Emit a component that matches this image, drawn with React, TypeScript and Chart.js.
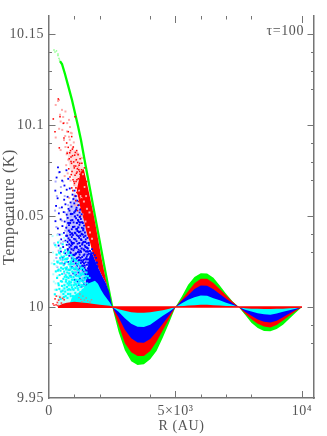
import React, { useEffect, useRef } from "react";
import { Chart, registerables } from "chart.js";

Chart.register(...registerables);

// axis ticks
const xMajorTicks = [0, 5000, 10000];
const xMinorTicks = [1000, 2000, 4000, 6000, 7000, 8000];
const yMajorTicks = [9.95, 10, 10.05, 10.1, 10.15];
const yMinorTicks = [10.14, 10.13, 10.12, 10.09, 10.08, 10.07, 10.04, 10.03, 9.99, 9.98];
const xLabels: Record<number, string> = { 0: "0", 5000: "5×10³", 10000: "10⁴" };
const annotation = "τ=100";

// oscillating lobes, R from 2500 to 10000
const lobeR = [2500, 2750, 3000, 3250, 3500, 3750, 4000, 4250, 4500, 4750, 5000, 5250, 5500, 5750, 6000, 6250, 6500, 6750, 7000, 7250, 7500, 7750, 8000, 8250, 8500, 8750, 9000, 9250, 9500, 9750, 10000];
const lobeGreen = [10, 9.9864, 9.9763, 9.9702, 9.9682, 9.9686, 9.9713, 9.9758, 9.9832, 9.9914, 10, 10.0058, 10.0122, 10.0165, 10.0186, 10.0184, 10.0161, 10.0119, 10.0073, 10.0032, 10, 9.9957, 9.9914, 9.9885, 9.9869, 9.9867, 9.988, 9.9903, 9.9936, 9.9968, 10];
const lobeRed = [10, 9.9903, 9.9801, 9.9752, 9.9731, 9.9731, 9.9758, 9.9809, 9.9873, 9.9936, 10, 10.0041, 10.0087, 10.0131, 10.0156, 10.0155, 10.0132, 10.0099, 10.0065, 10.0031, 10, 9.9965, 9.9933, 9.9908, 9.9893, 9.9888, 9.9901, 9.9926, 9.9952, 9.9977, 10];
const lobeBlue = [10, 9.9944, 9.9875, 9.9829, 9.9805, 9.9804, 9.9824, 9.9864, 9.9908, 9.9955, 10, 10.0035, 10.0065, 10.0099, 10.0118, 10.0117, 10.0098, 10.0072, 10.0046, 10.0021, 10, 9.9974, 9.9952, 9.9932, 9.9919, 9.9915, 9.9925, 9.9944, 9.9965, 9.9984, 10];
const lobeCyan = [10, 9.9974, 9.9939, 9.9908, 9.9892, 9.9891, 9.9903, 9.9928, 9.9952, 9.9974, 10, 10.0021, 10.004, 10.0054, 10.0063, 10.0062, 10.0049, 10.0037, 10.0024, 10.0013, 10, 9.9985, 9.9976, 9.9966, 9.996, 9.9958, 9.9964, 9.9974, 9.9983, 9.9991, 10];
const lobeInner = [10, 9.9988, 9.998, 9.9972, 9.9969, 9.9969, 9.9971, 9.9977, 9.9982, 9.9991, 10, 10.0005, 10.0008, 10.001, 10.0012, 10.0012, 10.001, 10.0008, 10.0006, 10.0004, 10, 9.9993, 9.9991, 9.999, 9.9989, 9.9989, 9.999, 9.9991, 9.9993, 9.9995, 10];

// green crest of the first peak
const crestR = [435, 513, 632, 751, 909, 1027, 1146, 1264, 1442, 1620, 1817, 2015, 2212, 2410, 2500];
const crestT = [10.1352, 10.1336, 10.1281, 10.122, 10.1138, 10.1067, 10.0995, 10.0918, 10.0781, 10.0649, 10.0501, 10.0353, 10.0205, 10.0062, 10];
const crestDotsR = [198, 237, 296, 355, 355, 395, 415];
const crestDotsT = [10.1413, 10.1402, 10.1408, 10.1391, 10.1383, 10.1367, 10.1358];

// solid red flank
const flankR = [1100, 1250, 1375, 1500, 1625, 1750, 1875, 2000, 2125, 2250, 2375, 2500];
const flankUpper = [10.0644, 10.0743, 10.0759, 10.0682, 10.06, 10.0518, 10.0424, 10.0326, 10.0232, 10.015, 10.0073, 10];
const flankLower = [10.0644, 10.054, 10.0479, 10.0402, 10.0353, 10.0282, 10.0238, 10.0199, 10.0164, 10.0131, 10.0084, 10];

// faint density washes
const pinkR = [750, 900, 1050, 1250, 1375];
const pinkUpper = [10.0853, 10.0864, 10.0864, 10.0842, 10.0759];
const pinkLower = [10.0809, 10.0726, 10.0644, 10.054, 10.0479];
const paleBlueR = [670, 830, 1027, 1225, 1383, 1500, 1620];
const paleBlueUpper = [10.0507, 10.0562, 10.0633, 10.0545, 10.0479, 10.0402, 10.0353];
const paleBlueLower = [10.0397, 10.0271, 10.0194, 10.015, 10.0122, 10.0122, 10.0133];
const paleCyanR = [350, 550, 750, 950, 1150, 1350, 1540];
const paleCyanT = [10.004, 10.0122, 10.0194, 10.0216, 10.0205, 10.0172, 10.0144];

// solid blue and cyan masses
const blueR = [1450, 1550, 1650, 1750, 1875, 2000, 2125, 2250, 2375, 2500];
const blueT = [10.0133, 10.0232, 10.0315, 10.0282, 10.0238, 10.0199, 10.0164, 10.0131, 10.0084, 10];
const cyanR = [830, 900, 1027, 1225, 1383, 1540, 1620, 1817, 1935, 2055, 2175, 2293, 2410, 2500];
const cyanT = [10.0024, 10.0051, 10.0068, 10.0084, 10.0106, 10.0128, 10.0133, 10.0144, 10.0128, 10.0095, 10.0068, 10.0046, 10.0024, 10];

// thick red base near T = 10
const baseR = [350, 550, 700, 1000, 1500, 2000, 2400, 2500];
const baseT = [10.0006, 10.0018, 10.0024, 10.0029, 10.0022, 10.0013, 10.0007, 10];
const baselineR = [420, 10000];
const baselineT = [10, 10];

// scattered points as R, T-10 (in 1e-4 K) pairs
const redDots = [367,1144, 170,1034, 237,964, 435,1046, 565,1010, 407,875, 592,929, 762,964, 699,902, 1027,1046, 897,937, 720,845, 760,878, 800,815, 850,860, 890,790, 930,832, 960,880, 1000,765, 1040,850, 1080,810, 1110,742, 1150,838, 1190,780, 1230,815, 780,760, 830,715, 870,800, 910,745, 950,700, 990,775, 1030,725, 1070,690, 1120,760, 1160,705, 1210,745, 1260,670, 1300,790, 900,655, 945,640, 985,690, 1025,610, 1065,655, 1105,700, 1145,625, 1185,670, 1225,730, 1270,640, 1320,700, 1060,585, 1100,630, 1140,560, 1180,610, 1220,680, 1280,595, 1340,660, 1390,720, 1130,530, 1170,580, 1210,630, 1250,540, 1310,610, 1370,650, 1420,700, 1240,500, 1300,560, 1360,600, 1430,640, 1490,690, 1530,610, 820,848, 870,825, 925,868, 975,798, 1015,835, 1055,775, 1095,860, 1135,795, 1175,755, 1215,790, 1255,725, 1295,755, 1345,745, 880,728, 1005,680, 1085,735, 1165,650, 1400,765];
const pinkDots = [395,1138, 355,1133, 265,1111, 435,1057, 513,1084, 650,1075, 790,1029, 592,1012, 460,1020, 720,1011, 830,990, 525,974, 710,965, 860,958, 265,932, 592,918, 790,936, 460,863, 650,880, 860,890, 720,850, 400,980, 560,1045, 640,940, 820,920, 900,955, 760,810, 940,875, 980,905, 680,780, 1050,805, 1100,845, 620,720, 740,735, 850,695, 1000,670, 1150,770, 1230,755, 1300,820, 1100,610, 1190,640, 1280,600, 1340,730, 1040,560, 1400,660, 700,840, 800,600, 1320,510, 1440,470, 1500,540, 1470,610, 1560,440, 1600,520, 1620,410, 1700,375, 1380,580, 1250,610];
const blueDots = [355,768, 420,742, 690,752, 300,712, 520,695, 760,705, 610,668, 250,640, 470,628, 700,645, 820,652, 930,618, 1010,640, 340,598, 600,590, 735,606, 850,575, 965,594, 1060,610, 1120,585, 280,556, 510,548, 650,565, 770,540, 890,552, 1000,570, 1090,546, 1180,560, 1230,535, 390,515, 580,522, 700,508, 810,530, 930,512, 1040,528, 1130,505, 1210,520, 1290,510, 255,472, 460,482, 620,470, 740,490, 860,476, 970,465, 1070,488, 1170,470, 1260,484, 1340,462, 350,432, 530,445, 680,436, 790,450, 900,428, 1010,442, 1110,430, 1205,452, 1300,436, 1385,448, 420,398, 590,408, 720,392, 830,412, 945,396, 1050,404, 1150,390, 1245,415, 1340,398, 1420,410, 480,372, 650,365, 770,378, 880,360, 990,375, 1090,362, 1190,380, 1285,368, 1375,385, 1455,372, 1520,380, 380,338, 560,330, 700,342, 815,328, 925,345, 1030,330, 1130,348, 1230,335, 1325,352, 1415,338, 1495,350, 1580,340, 470,305, 640,295, 750,310, 860,298, 965,312, 1070,296, 1170,315, 1270,302, 1365,318, 1455,305, 1540,322, 1620,308, 1700,318, 540,272, 700,265, 800,282, 905,268, 1010,285, 1110,270, 1210,288, 1310,275, 1405,290, 1495,278, 1580,292, 1660,280, 1740,296, 1810,285, 610,238, 750,248, 850,235, 955,252, 1060,240, 1160,255, 1260,242, 1355,258, 1450,246, 1540,262, 1625,250, 1705,265, 1785,252, 1860,270, 680,212, 800,205, 905,220, 1010,208, 1110,225, 1215,212, 1310,228, 1405,215, 1500,232, 1585,218, 1675,235, 1755,222, 1835,238, 1910,225, 850,172, 960,185, 1065,175, 1170,190, 1270,178, 1365,195, 1460,182, 1555,198, 1640,185, 1725,200, 1805,190, 1885,205, 1960,195, 1020,150, 1125,140, 1225,155, 1325,145, 1420,160, 1515,148, 1605,165, 1690,152, 1775,168, 1855,158, 1935,172, 2010,162, 1180,122, 1285,112, 1385,128, 1480,118, 1570,132, 1660,120, 1745,135, 1000,322, 1200,300, 1400,262, 1100,395, 900,385, 800,345, 1250,270, 1350,225, 1150,205, 1450,205];
const blueDenseDots = [835,462, 912,405, 1042,372, 1128,418, 1236,392, 1312,344, 1398,312, 1478,262, 872,338, 958,287, 1084,332, 1196,352, 1288,322, 1372,284, 1446,330, 1522,288, 1592,262, 1652,228, 782,420, 866,512, 948,440, 1024,498, 1102,462, 1186,412, 1262,372, 1352,422, 1432,358, 1508,306, 1568,352, 1634,272, 1714,244, 1792,228, 724,358, 826,300, 906,352, 996,262, 1066,262, 1148,302, 1242,308, 1330,248, 1412,228, 1486,198, 1552,244, 1618,212, 1694,190, 1022,408, 1098,326, 1172,274, 1248,225, 1338,205, 1422,182, 1494,162, 1578,176, 1662,168, 1742,186, 1822,212, 1892,244, 762,462, 848,398, 922,478, 1082,428, 1158,438, 1222,465, 1292,402, 1366,358, 1436,392, 1502,326, 1552,305, 684,392, 742,318, 818,368, 892,318, 976,352, 1048,292, 1122,236, 1196,258, 1274,256, 1382,240, 1468,268, 1546,212, 1608,238, 1682,208, 1000,520, 1075,535, 1150,478, 1218,495, 1308,466, 1356,432];
const paleBlueDots = [260,690, 390,740, 470,660, 310,610, 560,690, 240,530, 420,545, 620,610, 290,440, 510,475, 350,400, 470,350, 640,420, 210,350, 380,310, 560,360, 290,270, 450,260, 720,300, 330,220, 520,245, 610,185, 640,520, 760,560, 880,500, 700,440, 820,420, 600,300, 760,340, 900,330, 1000,470];
const cyanDots = [250,340, 360,355, 450,322, 540,345, 640,312, 300,288, 400,300, 500,276, 590,300, 690,286, 780,305, 880,285, 210,236, 330,250, 440,240, 540,260, 640,245, 740,268, 840,250, 940,272, 1040,255, 270,196, 380,206, 480,216, 580,230, 680,206, 780,235, 880,212, 980,238, 1080,220, 1180,245, 320,160, 420,176, 520,182, 620,166, 720,190, 820,170, 920,195, 1020,178, 1120,205, 1220,185, 1320,215, 370,130, 470,142, 570,155, 670,140, 770,160, 870,136, 970,165, 1070,145, 1170,172, 1270,150, 1370,180, 1470,158, 410,100, 510,116, 610,120, 710,110, 810,130, 910,108, 1010,135, 1110,115, 1210,140, 1310,120, 1410,150, 1510,130, 1600,160, 300,95, 540,90, 640,85, 740,95, 840,72, 940,98, 1040,78, 1140,103, 1240,82, 230,70, 460,45, 590,55, 730,50, 860,60, 1000,45, 760,205, 860,235, 960,150, 1060,190, 1160,130, 1260,210, 1360,160, 660,175, 900,260, 1000,210, 1100,170, 1200,125, 1300,180, 1400,130, 800,140, 700,250, 780,120, 880,165, 980,120, 1080,255, 1180,200, 1280,120, 1380,205, 1480,190, 600,195, 680,150, 420,295, 520,140, 610,102, 700,165, 790,98, 880,120, 975,95, 1065,125, 1155,95, 1245,110, 1335,95, 560,210, 650,215, 735,130, 825,205, 905,150, 990,190, 1085,150, 1175,150, 1255,175, 1345,140, 1435,110, 625,262, 705,218, 795,185, 875,245, 955,215, 1040,125, 1125,235, 1205,165, 1285,145, 1385,115, 480,85, 570,72, 660,60, 755,72, 850,95, 945,60, 1045,105, 1150,60, 1260,62, 1375,75, 1480,95, 1560,100, 505,240, 595,278, 675,265, 765,295, 845,222, 930,235, 1015,262, 1095,210, 1235,228, 1325,190, 1445,170, 1535,170, 350,200, 440,270, 385,120, 455,200, 345,245];
const paleCyanDots = [140,390, 220,345, 330,395, 160,300, 290,330, 420,365, 510,400, 200,255, 260,130, 400,255, 480,285, 600,380, 170,180, 300,225, 370,60, 520,210, 670,355, 230,95, 110,240, 190,140, 340,170, 450,90];
const baseDots = [240,45, 290,60, 330,25, 160,18, 380,38, 430,55, 200,10, 280,12, 490,22, 540,48, 350,8, 600,40];
const mixDots = [1180,52, 1260,42, 1340,60, 1400,38, 1470,50, 1530,34, 1220,72, 1300,30, 1620,28, 1680,40];

const zip = (xs: number[], ys: number[]) => xs.map((x, i) => ({ x, y: ys[i] }));
const dots = (flat: number[]) => {
  const out: { x: number; y: number }[] = [];
  for (let i = 0; i < flat.length; i += 2) out.push({ x: flat[i], y: 10 + flat[i + 1] / 10000 });
  return out;
};

const area = (data: any[], color: string, fill: any) => ({
  data,
  showLine: true,
  borderWidth: 0,
  borderColor: "transparent",
  backgroundColor: color,
  pointRadius: 0,
  tension: 0,
  fill,
});
const curve = (data: any[], color: string, width: number) => ({
  data,
  showLine: true,
  borderWidth: width,
  borderColor: color,
  pointRadius: 0,
  tension: 0,
  fill: false,
});
const marks = (data: any[], color: string, size: number) => ({
  data,
  showLine: false,
  pointStyle: "rect",
  pointRadius: size,
  pointBorderWidth: 0,
  pointBackgroundColor: color,
  backgroundColor: color,
  fill: false,
});

const ZERO = { value: 10 };
const layers: any[] = [
  /* 0 */ area(zip(paleCyanR, paleCyanT), "#c0ffff", ZERO),
  /* 1 */ area(zip(paleBlueR, paleBlueLower), "transparent", false),
  /* 2 */ area(zip(paleBlueR, paleBlueUpper), "#c4c4ff", 1),
  /* 3 */ area(zip(pinkR, pinkLower), "transparent", false),
  /* 4 */ area(zip(pinkR, pinkUpper), "#ffdcdc", 3),
  /* 5 */ curve(zip(crestR, crestT), "#00ff00", 2.3),
  marks(zip(crestDotsR, crestDotsT), "#88ff88", 1),
  area(zip(lobeR, lobeGreen), "#00ff00", ZERO),
  area(zip(lobeR, lobeRed), "#ff0000", ZERO),
  /* 9 */ area(zip(flankR, flankLower), "transparent", false),
  /* 10 */ area(zip(flankR, flankUpper), "#ff0000", 9),
  marks(dots(pinkDots), "#ffa8a8", 1.4),
  marks(dots(redDots), "#ff0000", 1.1),
  area(zip(blueR, blueT), "#0000ff", ZERO),
  area(zip(lobeR, lobeBlue), "#0000ff", ZERO),
  marks(dots(paleBlueDots), "#a8a8ff", 1.4),
  marks(dots(blueDots), "#0000ff", 1.3),
  marks(dots(blueDenseDots), "#0000ff", 1.5),
  area(zip(cyanR, cyanT), "#00ffff", ZERO),
  area(zip(lobeR, lobeCyan), "#00ffff", ZERO),
  marks(dots(paleCyanDots), "#a8ffff", 1.4),
  marks(dots(cyanDots), "#00ffff", 1.5),
  area(zip(lobeR, lobeInner), "#ff0000", ZERO),
  area(zip(baseR, baseT), "#ff0000", { value: 9.9995 }),
  curve(zip(baselineR, baselineT), "#ff0000", 1.5),
  marks(dots(baseDots), "#ff4040", 1.2),
  marks(dots(mixDots), "#d08080", 1),
];

const INK = "#555555";
const AXIS = "#757575";
const FONT = '14px "Liberation Serif"';

const framePlugin = {
  id: "frame",
  beforeDraw(chart: any) {
    chart.ctx.letterSpacing = "0.6px";
  },
  afterDraw(chart: any) {
    const { ctx, chartArea: a, scales } = chart;
    ctx.save();
    ctx.strokeStyle = AXIS;
    ctx.lineWidth = 1;
    const hTick = (v: number, len: number) => {
      const x = Math.round(scales.x.getPixelForValue(v)) + 0.5;
      ctx.beginPath();
      ctx.moveTo(x, a.bottom);
      ctx.lineTo(x, a.bottom - len);
      ctx.moveTo(x, a.top);
      ctx.lineTo(x, a.top + len);
      ctx.stroke();
    };
    const vTick = (v: number, len: number) => {
      const y = Math.round(scales.y.getPixelForValue(v)) + 0.5;
      ctx.beginPath();
      ctx.moveTo(a.left, y);
      ctx.lineTo(a.left + len, y);
      ctx.moveTo(a.right, y);
      ctx.lineTo(a.right - len, y);
      ctx.stroke();
    };
    xMajorTicks.filter((v) => v > 0).forEach((v) => hTick(v, 7));
    xMinorTicks.forEach((v) => hTick(v, 3.5));
    yMajorTicks.filter((v) => v > 9.95).forEach((v) => vTick(v, 6.5));
    yMinorTicks.forEach((v) => vTick(v, 3));
    ctx.fillStyle = INK;
    ctx.font = FONT;
    ctx.textAlign = "right";
    ctx.textBaseline = "middle";
    ctx.fillText(annotation, scales.x.getPixelForValue(10080), scales.y.getPixelForValue(10.1518));
    ctx.restore();
  },
};

export default function App() {
  const ref = useRef<HTMLCanvasElement>(null);
  useEffect(() => {
    document.body.style.margin = "0";
    const font = { family: "Liberation Serif", size: 14 };
    const chart = new Chart(ref.current as HTMLCanvasElement, {
      type: "scatter",
      data: {
        datasets: layers.map((l, i) => ({ ...l, order: layers.length - i })),
      },
      options: {
        animation: false,
        responsive: false,
        devicePixelRatio: 1,
        layout: { padding: { top: 16, left: 0, right: 0, bottom: 0 } },
        plugins: { legend: { display: false }, tooltip: { enabled: false } },
        scales: {
          x: {
            type: "linear",
            position: "bottom",
            min: 0,
            max: 10475,
            afterBuildTicks: (s: any) => {
              s.ticks = xMajorTicks.map((value) => ({ value }));
            },
            afterFit: (s: any) => {
              s.height = 38;
            },
            ticks: {
              autoSkip: false,
              maxRotation: 0,
              padding: 5,
              color: INK,
              font,
              callback: (v: any) => xLabels[v] ?? "",
            },
            grid: { drawOnChartArea: false, drawTicks: false },
            border: { color: AXIS, width: 1.5 },
            title: { display: true, text: "R (AU)", color: INK, font, padding: { top: 0, bottom: 1 } },
          },
          y: {
            type: "linear",
            position: "left",
            min: 9.95,
            max: 10.16,
            afterBuildTicks: (s: any) => {
              s.ticks = yMajorTicks.map((value) => ({ value }));
            },
            afterFit: (s: any) => {
              s.width = 49;
            },
            ticks: { autoSkip: false, padding: 5, color: INK, font, callback: (v: any) => String(v) },
            grid: { drawOnChartArea: false, drawTicks: false },
            border: { color: AXIS, width: 1.5 },
            title: {
              display: true,
              text: "Temperature (K)",
              color: INK,
              font: { family: "Liberation Serif", size: 16 },
              padding: { top: 0, bottom: 0 },
            },
          },
          yRight: {
            type: "linear",
            position: "right",
            min: 9.95,
            max: 10.16,
            afterFit: (s: any) => {
              s.width = 13;
            },
            ticks: { display: false },
            grid: { drawOnChartArea: false, drawTicks: false },
            border: { color: AXIS, width: 1.5 },
          },
        },
      } as any,
      plugins: [framePlugin],
    });
    return () => chart.destroy();
  }, []);
  return (
    <div style={{ position: "absolute", left: 0, top: 0, width: 327, height: 436 }}>
      <canvas ref={ref} width={327} height={436} style={{ display: "block" }} />
    </div>
  );
}
